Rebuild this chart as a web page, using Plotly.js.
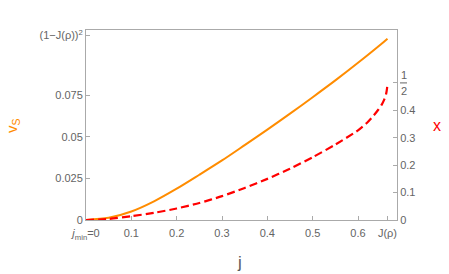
<!DOCTYPE html>
<html>
<head>
<meta charset="utf-8">
<script src="https://cdn.plot.ly/plotly-3.0.1.min.js"></script>
<style>html,body{margin:0;padding:0;background:#fff;}#chart{width:449px;height:274px;}</style>
</head>
<body>
<div id="chart"></div>
<script>
// Orange curve: v_S(j)
const jVs = [0, 0.05, 0.1, 0.15, 0.2, 0.25, 0.3, 0.35, 0.4, 0.45, 0.5, 0.55, 0.6, 0.65, 0.665];
const vsVals = [0, 0.0013, 0.0051, 0.0112, 0.0188, 0.0272, 0.0358, 0.045, 0.0543, 0.0639, 0.0738, 0.0839, 0.0945, 0.1055, 0.1090];

// Red dashed curve: x(j)
const jX = [0, 0.05, 0.1, 0.15, 0.2, 0.25, 0.3, 0.35, 0.4, 0.45, 0.5, 0.55, 0.6, 0.62, 0.635, 0.645, 0.652, 0.658, 0.662, 0.664, 0.665];
const xVals = [0, 0.004, 0.014, 0.026, 0.042, 0.062, 0.087, 0.117, 0.150, 0.187, 0.229, 0.275, 0.327, 0.355, 0.382, 0.403, 0.42, 0.44, 0.46, 0.48, 0.5];

// Tick labels
const xTickVals = [0, 0.1, 0.2, 0.3, 0.4, 0.5, 0.6, 0.665];
const xTickText = ['<i>j</i><sub>min</sub>=0', '0.1', '0.2', '0.3', '0.4', '0.5', '0.6', 'J(ρ)'];
const yTickVals = [0, 0.025, 0.05, 0.075, 0.111];
const yTickText = ['0', '0.025', '0.05', '0.075', '(1−J(ρ))<sup>2</sup>'];
const y2TickVals = [0, 0.1, 0.2, 0.3, 0.4, 0.5];
const y2TickText = ['0', '0.1', '0.2', '0.3', '0.4', ''];

const axisCol = 'rgb(170,170,170)';
const labCol = 'rgb(100,100,100)';
const orange = 'rgb(255,140,0)';
const red = 'rgb(255,0,0)';
const font = 'Liberation Sans, Arial, sans-serif';

const traces = [
  {x: jVs, y: vsVals, type: 'scatter', mode: 'lines', line: {color: orange, width: 2, shape: 'spline', smoothing: 0.8}, yaxis: 'y', hoverinfo: 'skip'},
  {x: jX, y: xVals, type: 'scatter', mode: 'lines', line: {color: red, width: 2.2, dash: '8px,4px', shape: 'spline', smoothing: 0.6}, yaxis: 'y2', hoverinfo: 'skip'}
];

const layout = {
  width: 449, height: 274,
  margin: {l: 86, r: 52, t: 30, b: 54, pad: 0},
  paper_bgcolor: '#fff', plot_bgcolor: '#fff',
  showlegend: false,
  font: {family: font, size: 11, color: labCol},
  xaxis: {
    range: [0, 0.686], showgrid: false, zeroline: false,
    showline: true, linecolor: axisCol, linewidth: 1, mirror: true,
    ticks: 'inside', ticklen: 4, tickcolor: axisCol,
    tickvals: xTickVals, ticktext: xTickText, ticklabelstandoff: 3,
    tickfont: {family: font, size: 11, color: labCol}
  },
  yaxis: {
    range: [0, 0.1142], showgrid: false, zeroline: false,
    showline: true, linecolor: axisCol, linewidth: 1,
    ticks: 'inside', ticklen: 4, tickcolor: axisCol,
    tickvals: yTickVals, ticktext: yTickText,
    tickfont: {family: font, size: 11, color: labCol}
  },
  yaxis2: {
    range: [0, 0.693], overlaying: 'y', side: 'right', showgrid: false, zeroline: false,
    showline: true, linecolor: axisCol, linewidth: 1,
    ticks: 'inside', ticklen: 4, tickcolor: axisCol,
    tickvals: y2TickVals, ticktext: y2TickText,
    tickfont: {family: font, size: 11, color: labCol}
  },
  annotations: [
    {text: 'v<sub>S</sub>', xref: 'paper', yref: 'paper', x: -0.238, y: 0.5, xanchor: 'center', yanchor: 'middle', textangle: -90, showarrow: false, font: {family: font, size: 15, color: orange}},
    {text: 'x', xref: 'paper', yref: 'paper', x: 1.129, y: 0.5, xanchor: 'center', yanchor: 'middle', showarrow: false, font: {family: font, size: 16, color: red}},
    {text: 'j', xref: 'paper', yref: 'paper', x: 0.494, y: -0.224, xanchor: 'center', yanchor: 'middle', showarrow: false, font: {family: font, size: 17, color: 'rgb(90,90,90)'}},
    {text: '1', xref: 'paper', yref: 'y2', x: 1.0, xshift: 7, y: 0.5, yshift: 8, xanchor: 'center', yanchor: 'middle', showarrow: false, font: {family: font, size: 11, color: labCol}},
    {text: '2', xref: 'paper', yref: 'y2', x: 1.0, xshift: 7, y: 0.5, yshift: -8, xanchor: 'center', yanchor: 'middle', showarrow: false, font: {family: font, size: 11, color: labCol}}
  ],
  shapes: [
    {type: 'line', xref: 'paper', yref: 'y2', x0: 1.0096, x1: 1.0322, y0: 0.5, y1: 0.5, line: {color: labCol, width: 1}}
  ]
};

Plotly.newPlot('chart', traces, layout, {displayModeBar: false, staticPlot: true});
</script>
</body>
</html>
